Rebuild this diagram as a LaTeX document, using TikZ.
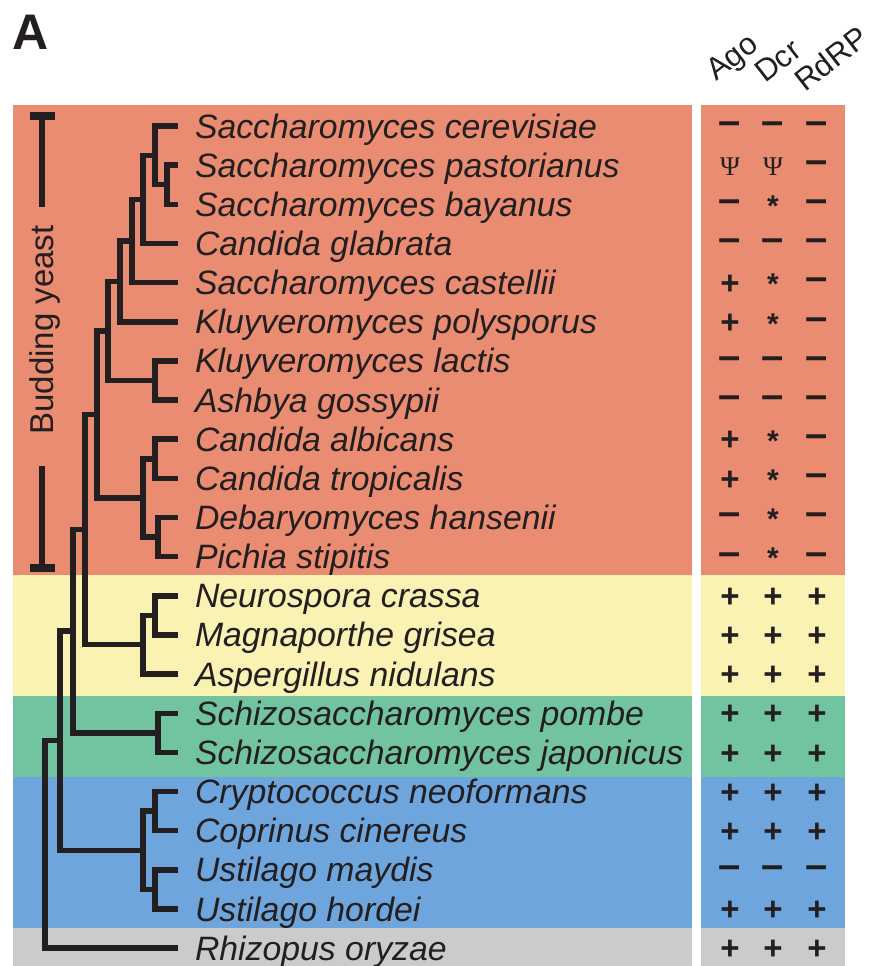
\documentclass[tikz,border=0pt]{standalone}
\usepackage{fontspec}
\setmainfont{Liberation Sans}
\newfontfamily\seriffont{Liberation Serif}
\usepackage{tikz}
\usetikzlibrary{positioning, calc}

\definecolor{budcol}{RGB}{233,140,114}
\definecolor{pezcol}{RGB}{249,242,178}
\definecolor{schcol}{RGB}{114,196,161}
\definecolor{bascol}{RGB}{109,165,220}
\definecolor{zygcol}{RGB}{203,203,203}
\definecolor{ink}{RGB}{35,31,32}

\newcommand{\mkP}{\fontsize{33}{33}\selectfont\bfseries +}
\newcommand{\mkM}{\fontsize{40}{40}\selectfont\bfseries –}
\newcommand{\mkS}{\fontsize{30}{30}\selectfont\bfseries *}
\newcommand{\mkY}{\fontsize{27}{27}\selectfont\seriffont Ψ}

\begin{document}
\begin{tikzpicture}[
    x=1pt, y=-1pt,
    species/.style={anchor=west, inner sep=0pt, outer xsep=17pt, text height=24pt, text depth=0pt, font=\fontsize{33.8}{39}\selectfont\itshape, text=ink},
    genemark/.style={inner sep=0pt, text=ink},
    header/.style={anchor=base west, rotate=38, inner sep=0pt, font=\fontsize{31}{31}\selectfont, text=ink},
    branch/.style={line width=5.5pt, draw=ink},
    bar/.style={line width=6pt, draw=ink}
]
\useasboundingbox (0,0) rectangle (868,966);
\fill[white] (0,0) rectangle (868,966);

% Coloured bands
\foreach \col/\top/\bot in {budcol/105/575, pezcol/575/696, schcol/696/777, bascol/777/928, zygcol/928/966} {
    \fill[\col] (13,\top) rectangle (692,\bot);
    \fill[\col] (701,\top) rectangle (845,\bot);
}

% Panel letter and column headers
\node[anchor=base west, inner sep=0pt, font=\fontsize{50}{50}\selectfont\bfseries, text=ink] (panel) at (12,50) {A};
\node[header] (hago) at (716,82) {Ago};
\node[header] (hdcr) at (765,84) {Dcr};
\node[header] (hrdrp) at (805,93) {RdRP};

% Species
\foreach \nm/\sp [count=\i from 0] in {cer/Saccharomyces cerevisiae, pas/Saccharomyces pastorianus, bay/Saccharomyces bayanus, gla/Candida glabrata, cas/Saccharomyces castellii, pol/Kluyveromyces polysporus, lac/Kluyveromyces lactis, ash/Ashbya gossypii, alb/Candida albicans, tro/Candida tropicalis, deb/Debaryomyces hansenii, pic/Pichia stipitis, neu/Neurospora crassa, mag/Magnaporthe grisea, asp/Aspergillus nidulans, pom/Schizosaccharomyces pombe, jap/Schizosaccharomyces japonicus, cry/Cryptococcus neoformans, cop/Coprinus cinereus, ust/Ustilago maydis, hor/Ustilago hordei, rhi/Rhizopus oryzae}
    \node[species] (\nm) at (178,{126+39.15*\i}) {\sp};

% Inner nodes of the tree
\coordinate (pb) at (167,184.7);
\coordinate (sens) at (155,155.4);
\coordinate (wgd1) at (143,199.4);
\coordinate (wgd2) at (132,241.0);
\coordinate (wgd) at (120,281.4);
\coordinate (kla) at (155,380.5);
\coordinate (sacc) at (108,330.9);
\coordinate (albtro) at (155,458.8);
\coordinate (dp) at (158,537.1);
\coordinate (ctg) at (143,497.9);
\coordinate (bud) at (97,414.4);
\coordinate (nm) at (155,615.4);
\coordinate (pez) at (143,644.7);
\coordinate (asc1) at (85,529.6);
\coordinate (sch) at (158,732.8);
\coordinate (asc) at (73,631.2);
\coordinate (cc) at (155,811.1);
\coordinate (um) at (155,889.4);
\coordinate (bas) at (143,850.3);
\coordinate (dik) at (60,740.7);
\coordinate (root) at (45,844.5);

% Branches
\foreach \p/\c in {pb/pas.west, pb/bay.west, sens/cer.west, sens/pb, wgd1/sens, wgd1/gla.west, wgd2/wgd1, wgd2/cas.west, wgd/wgd2, wgd/pol.west, kla/lac.west, kla/ash.west, sacc/wgd, sacc/kla, albtro/alb.west, albtro/tro.west, dp/deb.west, dp/pic.west, ctg/albtro, ctg/dp, bud/sacc, bud/ctg, nm/neu.west, nm/mag.west, pez/nm, pez/asp.west, asc1/bud, asc1/pez, sch/pom.west, sch/jap.west, asc/asc1, asc/sch, cc/cry.west, cc/cop.west, um/ust.west, um/hor.west, bas/cc, bas/um, dik/asc, dik/bas, root/dik, root/rhi.west}
    \draw[branch] (\p) |- (\c);

% Budding yeast bracket
\node[rotate=90, inner sep=0pt, text height=24pt, text depth=0pt, font=\fontsize{33}{33}\selectfont, text=ink] (budlabel) at (41,330) {Budding yeast};
\coordinate (bytop) at (42,116);
\coordinate (byupper) at (42,207);
\coordinate (bylower) at (42,466);
\coordinate (bybot) at (42,568);
\draw[bar] (bytop) -- (byupper);
\draw[bar] (bylower) -- (bybot);
\draw[bar, line width=8pt] ([xshift=-12.5pt]bytop) -- ([xshift=12.5pt]bytop);
\draw[bar, line width=8pt] ([xshift=-12.5pt]bybot) -- ([xshift=12.5pt]bybot);

% Gene table
\foreach \a/\b/\c [count=\i from 0] in {M/M/M, Y/Y/M, M/S/M, M/M/M, P/S/M, P/S/M, M/M/M, M/M/M, P/S/M, P/S/M, M/S/M, M/S/M, P/P/P, P/P/P, P/P/P, P/P/P, P/P/P, P/P/P, P/P/P, M/M/M, P/P/P, P/P/P} {
    \node[genemark] (ago\i) at (730,{128+39.15*\i}) {\csname mk\a\endcsname};
    \node[genemark] (dcr\i) at (773,{128+39.15*\i}) {\csname mk\b\endcsname};
    \node[genemark] (rdrp\i) at (817,{128+39.15*\i}) {\csname mk\c\endcsname};
}

\end{tikzpicture}
\end{document}
